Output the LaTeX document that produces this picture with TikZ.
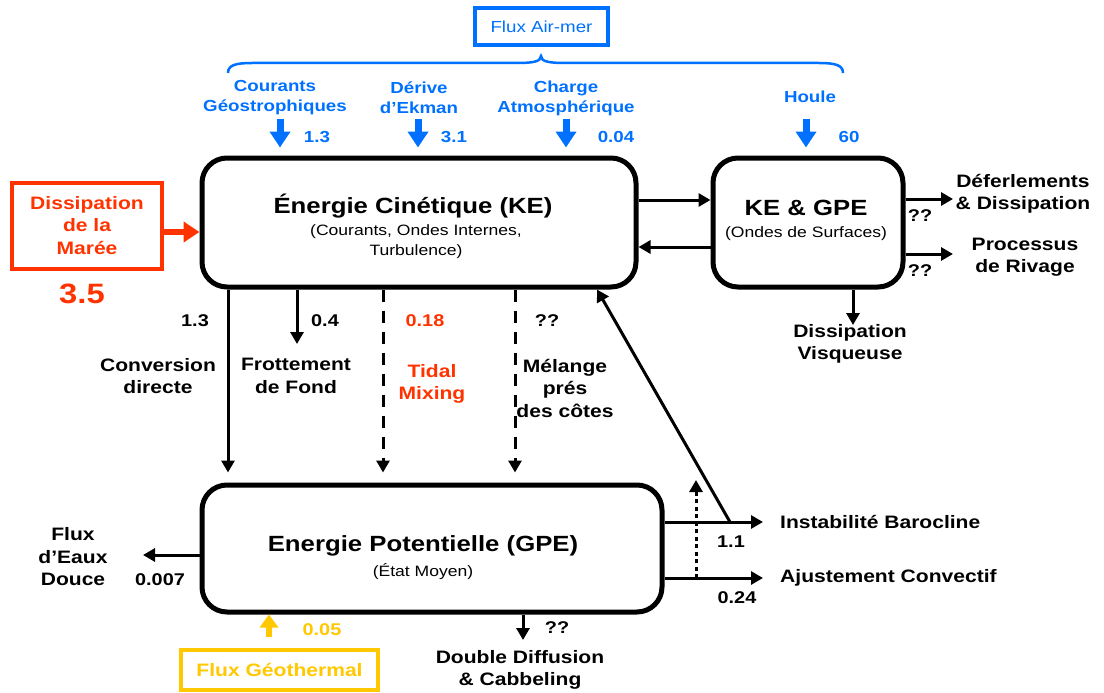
\documentclass[tikz,border=0pt]{standalone}
\usepackage{fontspec}
\setmainfont{Liberation Sans}[FakeStretch=1.17]
\usetikzlibrary{positioning}
\usetikzlibrary{arrows.meta}

\definecolor{airblue}{RGB}{0,112,255}
\definecolor{tidered}{RGB}{255,51,0}
\definecolor{geoyellow}{RGB}{255,200,0}

\begin{document}
\begin{tikzpicture}[
  x=1pt, y=-1pt,
  box/.style = {draw, line width=5pt, rounded corners=25pt, inner sep=0pt},
  ttl/.style = {font=\bfseries\fontsize{22}{26}\selectfont, inner sep=0pt},
  sub/.style = {font=\fontsize{15}{20}\selectfont, align=center, inner sep=0pt},
  lbl/.style = {font=\bfseries\fontsize{18}{22.5}\selectfont, align=center, inner sep=0pt},
  num/.style = {font=\bfseries\fontsize{17}{20}\selectfont, inner sep=0pt},
  air/.style = {font=\bfseries\fontsize{16}{20}\selectfont, align=center, inner sep=0pt, text=airblue},
  flow/.style = {line width=3pt, -{Triangle[length=12pt,width=13pt]}},
  maybe/.style = {flow, dash pattern=on 12pt off 9pt},
  fat/.style = {line width=7pt, -{Triangle[length=16pt,width=20pt]}},
  >={Triangle[length=12pt,width=13pt]}
]
  \useasboundingbox (0,0) rectangle (1104,693);

  % reservoirs
  \node[box, minimum width=434pt, minimum height=129pt] (ke) at (419,222.5) {};
  \node[box, minimum width=190pt, minimum height=129pt] (wave) at (808,222.5) {};
  \node[box, minimum width=460pt, minimum height=127pt] (gpe) at (432,548.5) {};

  \node[ttl] (ketitle) at (413,206) {Énergie Cinétique (KE)};
  \node[sub] (kesub) at (416,242) {(Courants, Ondes Internes,\\Turbulence)};
  \node[ttl] (wavetitle) at (806,208) {KE \& GPE};
  \node[sub] (wavesub) at (806,234) {(Ondes de Surfaces)};
  \node[ttl] (gpetitle) at (423,546) {Energie Potentielle (GPE)};
  \node[sub] (gpesub) at (423,572) {(État Moyen)};

  % air-sea forcing
  \node[draw=airblue, line width=3.5pt, text=airblue, font=\fontsize{16}{20}\selectfont,
        minimum width=133pt, minimum height=37pt] (airsea) at (541.5,26.5) {Flux Air-mer};
  \draw[airblue, line width=2.5pt] (228,73) .. controls (228,65) and (236,63) .. (252,63)
    -- (515,63) .. controls (532,63) and (541,62) .. (541,56)
    .. controls (541,62) and (550,63) .. (567,63) -- (819,63)
    .. controls (835,63) and (843,65) .. (843,73);

  \node[air] (geo) at (275,98) {Courants\\Géostrophiques};
  \node[air] (ekman) at (419,98) {Dérive\\d’Ekman};
  \node[air] (atm) at (566,98) {Charge\\Atmosphérique};
  \node[air] (houle) at (810,97) {Houle};

  \coordinate (geoin) at (280,119);
  \coordinate (ekin) at (418,119);
  \coordinate (atmin) at (566,119);
  \coordinate (houin) at (806,119);
  \draw[fat, airblue, shorten >=8pt] (geoin) -- (geoin |- ke.north);
  \draw[fat, airblue, shorten >=8pt] (ekin) -- (ekin |- ke.north);
  \draw[fat, airblue, shorten >=8pt] (atmin) -- (atmin |- ke.north);
  \draw[fat, airblue, shorten >=8pt] (houin) -- (houin |- wave.north);

  \node[air] (geonum) at (317,137) {1.3};
  \node[air] (eknum) at (454,137) {3.1};
  \node[air] (atmnum) at (616,137) {0.04};
  \node[air] (hounum) at (849,137) {60};

  % tides
  \node[draw=tidered, line width=4pt, lbl, text=tidered, minimum width=150pt,
        minimum height=86pt] (tide) at (87,225.5) {Dissipation\\de la\\Marée};
  \coordinate (tidein) at (tide.east |- 0,232);
  \draw[fat, tidered, line width=6pt] (tidein) -- (tidein -| ke.west);
  \node[text=tidered, font=\bfseries\fontsize{28}{32}\selectfont] (tidenum) at (82,294) {3.5};

  % KE <-> surface waves
  \draw[flow] (ke.east |- 0,200) -- (wave.west |- 0,200);
  \draw[flow] (wave.west |- 0,247) -- (ke.east |- 0,247);

  \coordinate (brk) at (953,199);
  \coordinate (shore) at (953,254);
  \coordinate (visc) at (853,325);
  \draw[flow] (wave.east |- brk) -- (brk);
  \draw[flow] (wave.east |- shore) -- (shore);
  \draw[flow] (wave.south -| visc) -- (visc);
  \node[lbl] (brktxt) at (1023,194) {Déferlements\\\& Dissipation};
  \node[num] (brknum) at (920,216) {??};
  \node[lbl] (shoretxt) at (1025,257) {Processus\\de Rivage};
  \node[num] (shorenum) at (920,271) {??};
  \node[lbl] (visctxt) at (850,344) {Dissipation\\Visqueuse};

  % KE -> GPE
  \coordinate (convx) at (228,400);
  \coordinate (fric) at (297,344);
  \coordinate (tidx) at (383,400);
  \coordinate (mixx) at (515,400);
  \draw[flow, shorten >=10pt] (ke.south -| convx) -- (gpe.north -| convx);
  \draw[flow] (ke.south -| fric) -- (fric);
  \draw[maybe, shorten >=10pt] (ke.south -| tidx) -- (gpe.north -| tidx);
  \draw[maybe, shorten >=10pt] (ke.south -| mixx) -- (gpe.north -| mixx);

  \node[num] (convnum) at (195,321) {1.3};
  \node[lbl] (convtxt) at (158,376) {Conversion\\directe};
  \node[num] (fricnum) at (325,321) {0.4};
  \node[lbl] (frictxt) at (296,376) {Frottement\\de Fond};
  \node[num, text=tidered] (tidnum) at (425,321) {0.18};
  \node[lbl, text=tidered] (tidtxt) at (432,384) {Tidal\\Mixing};
  \node[num] (mixnum) at (547,321) {??};
  \node[lbl] (mixtxt) at (565,388) {Mélange\\prés\\des côtes};

  % GPE -> KE
  \coordinate (baro) at (730,522);
  \coordinate (kebx) at (597,0);
  \draw[flow] (baro) -- (ke.south -| kebx);

  \coordinate (barotip) at (763,522);
  \coordinate (convtip) at (763,578);
  \coordinate (dotx) at (696,578);
  \coordinate (dottip) at (696,480);
  \draw[flow] (gpe.east |- barotip) -- (barotip);
  \draw[flow] (gpe.east |- convtip) -- (convtip);
  \draw[flow, dash pattern=on 4pt off 3.5pt] (dotx) -- (dottip);
  \node[lbl, anchor=west] (barotxt) at (780,522) {Instabilité Barocline};
  \node[num] (baronum) at (731,542) {1.1};
  \node[lbl, anchor=west] (convtxt2) at (780,578) {Ajustement Convectif};
  \node[num] (convnum2) at (737,598) {0.24};

  % GPE sources and sinks
  \coordinate (fresh) at (143,555);
  \draw[flow] (gpe.west |- fresh) -- (fresh);
  \node[lbl] (freshtxt) at (73,557) {Flux\\d’Eaux\\Douce};
  \node[num] (freshnum) at (160,580) {0.007};

  \node[draw=geoyellow, line width=4pt, lbl, text=geoyellow, minimum width=197pt,
        minimum height=40pt] (geoth) at (279.5,670) {Flux Géothermal};
  \coordinate (geobase) at (269,637);
  \draw[geoyellow, line width=6pt, -{Triangle[length=13pt,width=18pt]}]
    (geobase) -- (gpe.south -| geobase);
  \node[num, text=geoyellow] (geothnum) at (322,630) {0.05};

  \coordinate (ddiff) at (523,640);
  \draw[flow] (gpe.south -| ddiff) -- (ddiff);
  \node[num] (ddnum) at (557,628) {??};
  \node[lbl] (ddtxt) at (520,670) {Double Diffusion\\\& Cabbeling};

\end{tikzpicture}
\end{document}
